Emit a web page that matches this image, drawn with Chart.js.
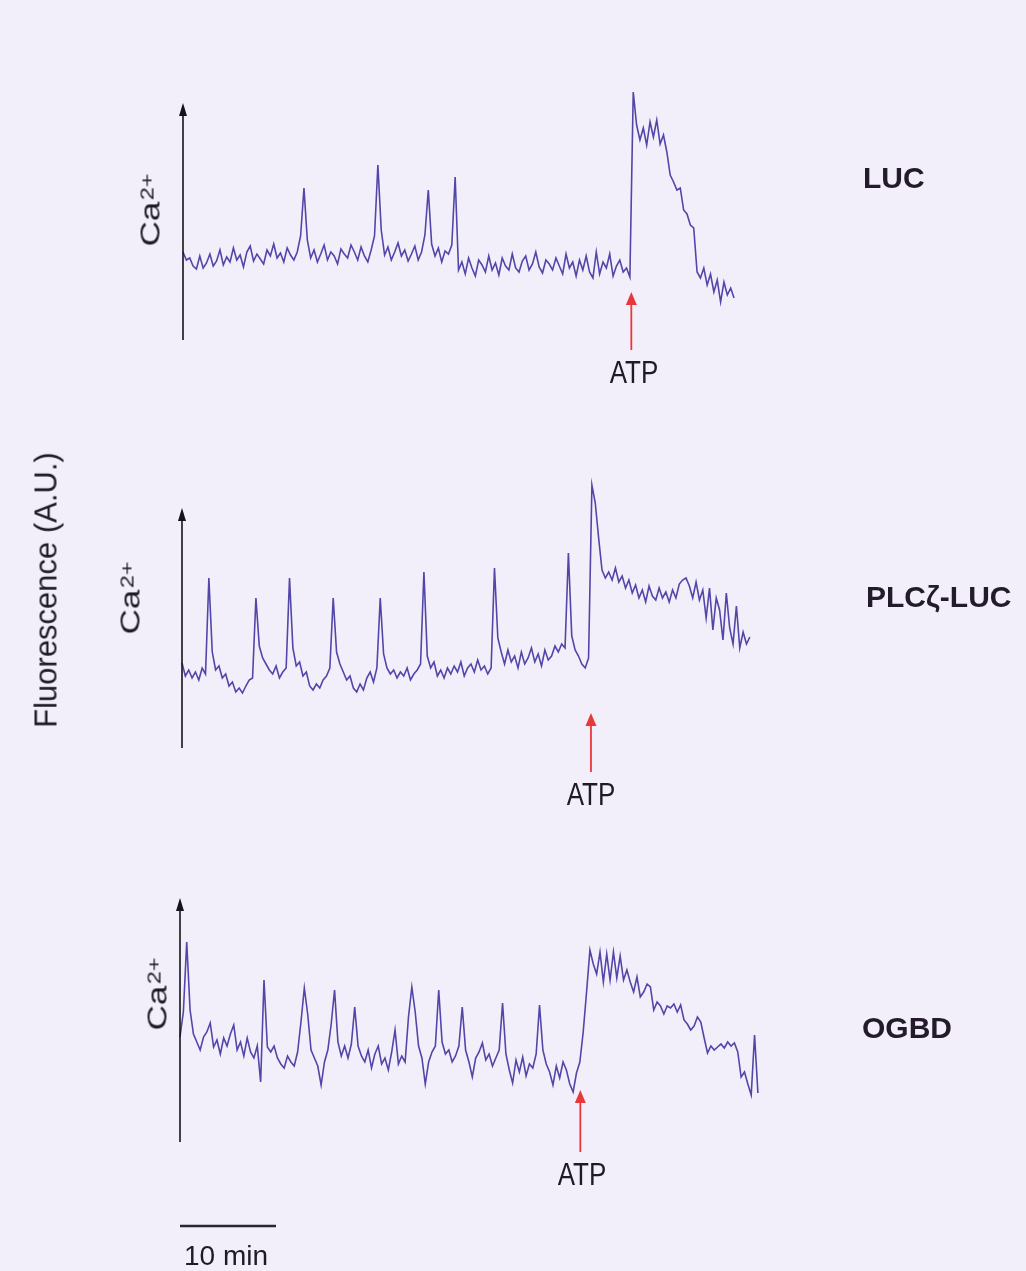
<!DOCTYPE html>
<html>
<head>
<meta charset="utf-8">
<script src="https://cdn.jsdelivr.net/npm/chart.js@4.4.0/dist/chart.umd.min.js"></script>
<style>
  body { margin: 0; background: #f3effa; }
  #wrap { position: relative; width: 1026px; height: 1271px; overflow: hidden;
          font-family: "Liberation Sans", Arial, sans-serif; color: #1f1a26; }
  #traces { position: absolute; left: 0; top: 0; }
  .lbl { position: absolute; white-space: nowrap; line-height: 1; }
  .name { font-weight: bold; font-size: 30px; transform: translateY(-50%); color: #231b2c; }
  .atp { font-size: 26px; transform: translate(-50%, -50%) scaleY(1.2); }
  .ca { font-size: 27px; transform: translate(-50%, -50%) rotate(-90deg) scaleX(1.3); }
  .ca sup { font-size: 18px; position: relative; top: -0.35em; vertical-align: baseline; margin-left: 1px; }
</style>
</head>
<body>
<div id="wrap">
  <canvas id="traces" width="1026" height="1271"></canvas>

  <div class="lbl" style="left:46px;top:590px;font-size:31px;transform:translate(-50%,-50%) rotate(-90deg);">Fluorescence (A.U.)</div>

  <div class="lbl ca" style="left:151px;top:210px;">Ca<sup>2+</sup></div>
  <div class="lbl ca" style="left:131px;top:598px;">Ca<sup>2+</sup></div>
  <div class="lbl ca" style="left:158px;top:994px;">Ca<sup>2+</sup></div>

  <div class="lbl atp" style="left:634px;top:372px;">ATP</div>
  <div class="lbl atp" style="left:591px;top:794px;">ATP</div>
  <div class="lbl atp" style="left:582px;top:1174px;">ATP</div>

  <div class="lbl name" style="left:863px;top:178px;">LUC</div>
  <div class="lbl name" style="left:866px;top:597px;">PLCζ-LUC</div>
  <div class="lbl name" style="left:862px;top:1028px;">OGBD</div>

  <div class="lbl" style="left:226px;top:1256px;font-size:28px;transform:translate(-50%,-50%);">10 min</div>
</div>

<script>
// sampling interval of the recordings (minutes per point)
const sampleStep = 0.35;

// Ca2+ fluorescence traces (A.U.), one value per sample
const lucValues = [
  88, 80, 82, 74, 71, 84, 72, 77, 86, 74,
  79, 90, 75, 83, 78, 92, 80, 85, 73, 88,
  94, 79, 86, 81, 76, 90, 84, 96, 82, 87,
  78, 92, 85, 80, 88, 104,
  152, 100, 82,
  90, 78, 86, 95, 80, 88, 84, 76, 91, 86, 82,
  95, 88, 80, 93, 84, 78, 90, 104,
  175, 110, 85,
  93, 80, 88, 97, 84, 90, 79, 86, 94, 80, 88,
  105, 150, 96,
  84, 92, 78, 89, 86, 95,
  163, 70,
  78, 66, 82, 72, 64, 80, 75, 68, 84, 70, 77, 65, 82, 74, 70, 86, 72,
  68, 79, 84, 70, 76, 88, 73, 67, 80, 76, 70, 82, 74, 66, 86, 72, 78,
  64, 80, 70, 84, 68, 62, 88, 66, 78, 72, 86, 64, 74, 80, 68, 72, 63,
  248, 215, 200, 212, 195, 218, 203, 220, 196, 205, 188, 165, 158, 150, 152,
  130, 126, 115, 112, 68, 62, 72, 55, 66, 48, 60, 38, 58, 45, 52, 42
];

const plcValues = [
  85, 72, 78, 70, 76, 68, 80, 74,
  170, 96, 78,
  82, 70, 74, 62, 66, 56, 60, 55, 62, 68, 70,
  150, 102, 90, 84,
  78, 74, 82, 70, 76, 80,
  170, 100, 82,
  86, 72, 76, 62, 58, 64, 60, 68, 72, 80,
  150, 96, 84,
  76, 68, 72, 60, 56, 64, 58, 70, 76, 66, 80,
  150, 94, 80,
  74, 78, 70, 76, 72, 80, 68, 74, 78, 84,
  176, 92, 80,
  86, 72, 78, 70, 80, 74, 82, 76, 86, 72, 80, 84, 76, 88, 78, 82, 74, 80,
  180, 110, 96,
  84, 98, 86, 92, 80, 96, 84, 90, 100, 86, 94, 82, 98, 88, 92, 102, 96, 104, 100,
  195, 112, 98,
  92, 84, 80, 90,
  263, 245, 210, 178, 170,
  176, 168, 180, 166, 172, 160, 168, 155, 163, 150, 158, 146, 162, 152, 148,
  160, 150, 156, 146, 158, 150, 164, 168, 170, 162, 150, 166, 148, 158,
  130, 160, 118, 150, 138, 108, 155, 120, 104, 142, 100, 116, 104, 111
];

const ogbdValues = [
  105, 130, 200, 132, 108,
  100, 92, 105, 110, 119, 95, 102, 88, 104, 96, 108,
  117, 92, 100, 86, 104, 90, 84, 96,
  60, 162, 95,
  90, 96, 84, 78, 74, 86, 80, 76, 90,
  120, 154, 128, 92,
  84, 76, 57, 80, 92,
  118, 152, 100,
  86, 96, 84, 98,
  135, 96, 86,
  80, 92, 74, 88, 96, 78, 84, 72, 90, 112, 78, 86, 80,
  125, 155, 130, 96,
  84, 58, 80, 90, 96,
  152, 100, 88,
  92, 80, 86, 96,
  135, 92, 80, 65,
  84, 90, 99, 82, 88, 76, 84, 92,
  139, 88, 72, 59,
  82, 70, 85, 66, 78, 74, 88,
  137, 92, 78, 70, 57,
  76, 64, 80, 72, 58, 50, 69,
  80, 110, 150, 192,
  178, 168, 190, 160, 188, 162, 190, 164, 186, 162, 172,
  160, 150, 165, 145, 150, 158, 155, 132, 140, 136, 128, 136,
  134, 138, 130, 137, 122, 118, 112, 116, 125, 120, 104, 89, 96, 92, 95,
  98, 94, 100, 96, 99, 90, 65, 70, 58, 47, 107, 49
];

const traceNames = ['LUC', 'PLCζ-LUC', 'OGBD'];
const traceValues = [lucValues, plcValues, ogbdValues];
// time (min) at which ATP was added to each recording
const atpTimes = [46.7, 42.6, 41.7];
const scaleBarMinutes = 10;

// page layout of the three panels (pixels)
const W = 1026, H = 1271, pxPerMin = 9.6;
const panels = [
  { left: 183, base: 340, axisLen: 237, arrowFrom: -10, arrowTo: 48 },
  { left: 182, base: 748, axisLen: 240, arrowFrom: -24, arrowTo: 35 },
  { left: 180, base: 1142, axisLen: 244, arrowFrom: -10, arrowTo: 52 }
];
const traceColor = '#5246a8';
const atpColor = '#e8383a';

const scales = {};
panels.forEach((p, k) => {
  scales['x' + k] = { type: 'linear', display: false, min: -p.left / pxPerMin, max: (W - p.left) / pxPerMin };
  scales['y' + k] = { type: 'linear', display: false, min: p.base - H, max: p.base };
});

const datasets = traceValues.map((vals, k) => ({
  label: traceNames[k],
  data: vals.map((v, i) => ({ x: i * sampleStep, y: v })),
  xAxisID: 'x' + k,
  yAxisID: 'y' + k,
  borderColor: traceColor,
  borderWidth: 1.6,
  pointRadius: 0,
  tension: 0,
  fill: false
}));

function arrowHead(ctx, x, y, w, h) {
  ctx.beginPath();
  ctx.moveTo(x, y);
  ctx.lineTo(x - w / 2, y + h);
  ctx.lineTo(x + w / 2, y + h);
  ctx.closePath();
  ctx.fill();
}

// draws the Ca2+ axes, the ATP arrows and the time scale bar
const decorations = {
  id: 'decorations',
  afterDatasetsDraw(chart) {
    const ctx = chart.ctx;
    ctx.save();
    panels.forEach((p, k) => {
      const xs = chart.scales['x' + k], ys = chart.scales['y' + k];
      const ax = xs.getPixelForValue(0);
      const yb = ys.getPixelForValue(0), yt = ys.getPixelForValue(p.axisLen);
      ctx.strokeStyle = '#15121a';
      ctx.fillStyle = '#15121a';
      ctx.lineWidth = 1.6;
      ctx.beginPath();
      ctx.moveTo(ax, yb);
      ctx.lineTo(ax, yt + 8);
      ctx.stroke();
      arrowHead(ctx, ax, yt, 8, 13);

      const tx = xs.getPixelForValue(atpTimes[k]);
      const a0 = ys.getPixelForValue(p.arrowFrom), a1 = ys.getPixelForValue(p.arrowTo);
      ctx.strokeStyle = atpColor;
      ctx.fillStyle = atpColor;
      ctx.lineWidth = 1.8;
      ctx.beginPath();
      ctx.moveTo(tx, a0);
      ctx.lineTo(tx, a1 + 10);
      ctx.stroke();
      arrowHead(ctx, tx, a1, 11, 13);
    });
    // 10 min scale bar under the last trace
    const xs = chart.scales.x2, ys = chart.scales.y2;
    ctx.strokeStyle = '#2a2530';
    ctx.lineWidth = 2.5;
    ctx.beginPath();
    ctx.moveTo(xs.getPixelForValue(0), ys.getPixelForValue(-84));
    ctx.lineTo(xs.getPixelForValue(scaleBarMinutes), ys.getPixelForValue(-84));
    ctx.stroke();
    ctx.restore();
  }
};

new Chart(document.getElementById('traces').getContext('2d'), {
  type: 'line',
  data: { datasets: datasets },
  options: {
    responsive: false,
    animation: false,
    devicePixelRatio: 1,
    events: [],
    layout: { padding: 0 },
    scales: scales,
    plugins: {
      legend: { display: false },
      tooltip: { enabled: false },
      title: { display: false }
    }
  },
  plugins: [decorations]
});
</script>
</body>
</html>
